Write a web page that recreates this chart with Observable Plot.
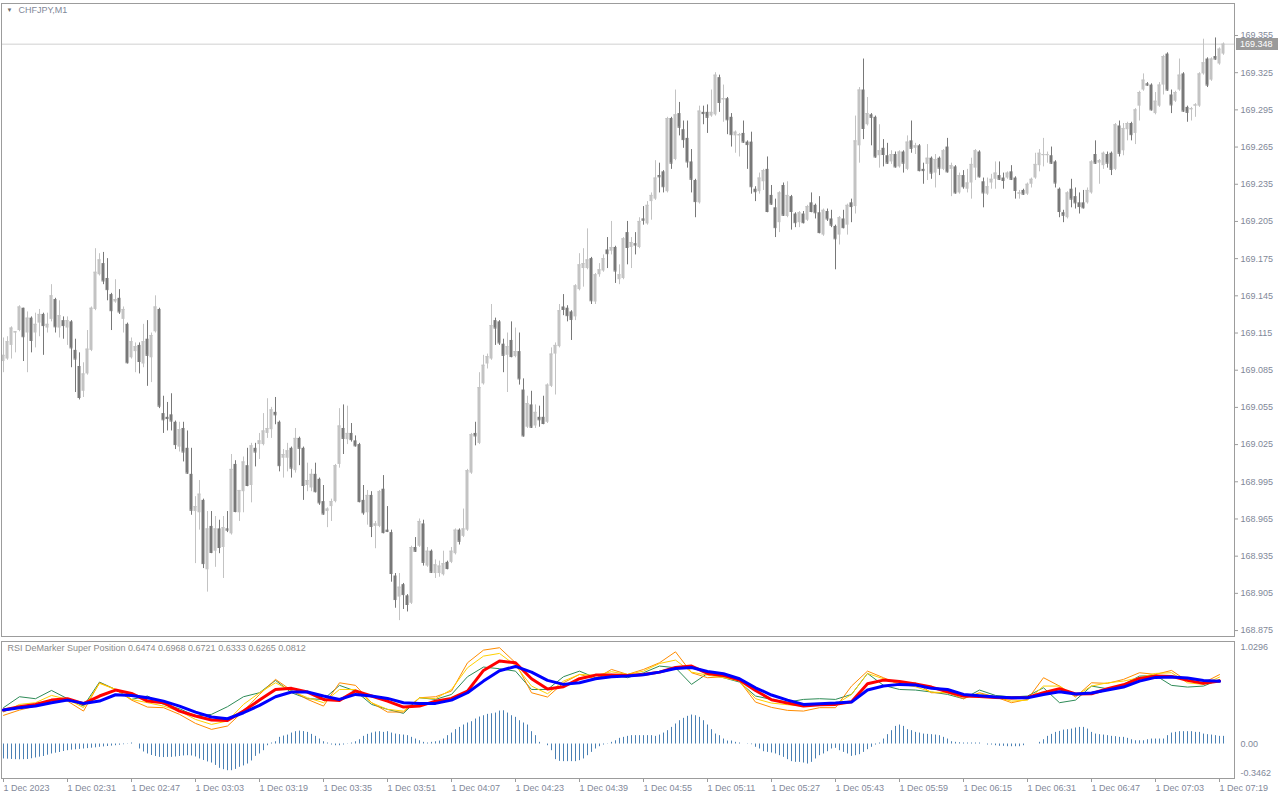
<!DOCTYPE html>
<html><head><meta charset="utf-8">
<script src="https://cdn.jsdelivr.net/npm/d3@7"></script>
<script src="https://cdn.jsdelivr.net/npm/@observablehq/plot@0.6"></script>
<style>
html,body{margin:0;padding:0;background:#fff;}
#wrap{position:relative;width:1280px;height:800px;overflow:hidden;background:#fff;}
#main{position:absolute;left:0;top:0;}
#ind{position:absolute;left:0;top:638px;}
svg{display:block;}
</style></head>
<body><div id="wrap"><div id="main"></div><div id="ind"></div></div>
<script>
const symbolLabel = "CHFJPY,M1";
const indicatorLabel = "RSI DeMarker Super Position 0.6474 0.6968 0.6721 0.6333 0.6265 0.0812";
const timeLabels = ["1 Dec 2023","1 Dec 02:31","1 Dec 02:47","1 Dec 03:03","1 Dec 03:19","1 Dec 03:35","1 Dec 03:51","1 Dec 04:07","1 Dec 04:23","1 Dec 04:39","1 Dec 04:55","1 Dec 05:11","1 Dec 05:27","1 Dec 05:43","1 Dec 05:59","1 Dec 06:15","1 Dec 06:31","1 Dec 06:47","1 Dec 07:03","1 Dec 07:19"];
const timeTickIdx = [0,16,32,48,64,80,96,112,128,144,160,176,192,208,224,240,256,272,288,304];
const priceTicks = [169.355,169.325,169.295,169.265,169.235,169.205,169.175,169.145,169.115,169.085,169.055,169.025,168.995,168.965,168.935,168.905,168.875];
const indTicks = [1.0296, 0, -0.3462];
const indTickLabels = ["1.0296","0.00","-0.3462"];

const open = [169.092,169.094,169.105,169.115,169.117,169.135,169.115,169.127,169.115,169.123,
169.130,169.119,169.126,169.142,169.119,169.125,169.119,169.124,169.101,169.088,
169.068,169.082,169.101,169.134,169.162,169.171,169.159,169.146,169.140,169.143,
169.126,169.122,169.095,169.100,169.105,169.090,169.110,169.095,169.116,169.134,
169.050,169.047,169.049,169.043,169.023,169.038,169.022,169.001,168.971,168.970,
168.980,168.924,168.959,168.939,168.957,168.942,168.957,168.953,169.009,168.970,
168.987,169.008,168.992,169.022,169.025,169.025,169.034,169.037,169.051,169.043,
169.014,169.014,169.022,169.004,169.030,169.022,168.992,168.990,169.001,168.997,
168.979,168.971,168.975,168.979,169.009,169.038,169.029,169.034,169.028,169.025,
168.980,168.970,168.984,168.959,168.959,168.989,168.956,168.954,168.919,168.902,
168.912,168.903,168.897,168.942,168.943,168.961,168.927,168.939,168.921,168.921,
168.920,168.930,168.930,168.937,168.956,168.951,168.956,169.002,169.034,169.026,
169.074,169.090,169.094,169.125,169.124,169.106,169.097,169.109,169.096,169.100,
169.069,169.039,169.057,169.040,169.047,169.047,169.043,169.072,169.098,169.104,
169.136,169.135,169.132,169.128,169.150,169.167,169.167,169.175,169.140,169.162,
169.165,169.182,169.181,169.184,169.158,169.159,169.196,169.184,169.187,169.184,
169.207,169.203,169.221,169.223,169.242,169.245,169.229,169.288,169.255,169.292,
169.279,169.272,169.253,169.238,169.220,169.293,169.293,169.290,169.291,169.321,
169.303,169.304,169.289,169.274,169.274,169.276,169.269,169.269,169.231,169.229,
169.237,169.247,169.226,169.216,169.204,169.234,169.209,169.225,169.211,169.204,
169.211,169.206,169.220,169.218,169.212,169.194,169.213,169.207,169.201,169.194,
169.207,169.202,169.220,169.217,169.266,169.311,169.283,169.291,169.289,169.258,
169.264,169.258,169.253,169.259,169.249,169.261,169.247,169.270,169.264,169.266,
169.247,169.251,169.256,169.244,169.256,169.247,169.265,169.247,169.249,169.228,
169.242,169.231,169.236,169.248,169.261,169.237,169.227,169.236,169.239,169.242,
169.240,169.240,169.245,169.240,169.227,169.230,169.227,169.235,169.240,169.250,
169.258,169.258,169.258,169.253,169.231,169.212,169.208,169.231,169.225,169.220,
169.220,169.220,169.228,169.259,169.252,169.250,169.259,169.260,169.247,169.282,
169.262,169.279,169.284,169.276,169.298,169.311,169.316,169.315,169.292,169.298,
169.315,169.340,169.307,169.302,169.311,169.324,169.297,169.295,169.298,169.298,
169.324,169.336,169.319,169.338,169.332,169.340];

const high = [169.111,169.112,169.120,169.116,169.137,169.135,169.132,169.128,169.131,169.134,
169.131,169.131,169.154,169.143,169.141,169.128,169.128,169.125,169.110,169.099,
169.091,169.117,169.136,169.183,169.179,169.180,169.175,169.147,169.158,169.150,
169.136,169.123,169.111,169.107,169.107,169.122,169.125,169.115,169.145,169.135,
169.064,169.059,169.066,169.044,169.043,169.043,169.036,169.022,168.983,168.996,
168.981,168.971,168.971,168.967,168.964,168.967,168.971,169.017,169.012,168.988,
169.015,169.022,169.026,169.026,169.034,169.050,169.062,169.055,169.063,169.044,
169.021,169.026,169.023,169.038,169.031,169.023,169.010,169.005,169.010,168.998,
168.992,168.974,168.981,169.009,169.054,169.057,169.056,169.042,169.032,169.026,
168.992,168.988,168.987,168.963,168.988,169.000,168.975,168.956,168.921,168.921,
168.913,168.904,168.943,168.950,168.965,168.964,168.942,168.940,168.932,168.931,
168.939,168.931,168.942,168.957,168.957,168.973,169.005,169.034,169.043,169.083,
169.097,169.098,169.138,169.127,169.125,169.110,169.115,169.124,169.119,169.115,
169.078,169.064,169.068,169.057,169.056,169.064,169.074,169.103,169.107,169.138,
169.146,169.137,169.133,169.154,169.179,169.183,169.199,169.176,169.163,169.171,
169.178,169.192,169.205,169.185,169.170,169.192,169.205,169.192,169.196,169.208,
169.217,169.221,169.228,169.254,169.252,169.246,169.289,169.289,169.311,169.301,
169.286,169.286,169.263,169.239,169.298,169.298,169.299,169.311,169.325,169.323,
169.315,169.305,169.292,169.278,169.276,169.286,169.270,169.277,169.233,169.244,
169.247,169.257,169.234,169.223,169.229,169.236,169.237,169.226,169.212,169.213,
169.213,169.218,169.228,169.219,169.225,169.215,169.215,169.214,169.202,169.209,
169.214,169.219,169.223,169.290,169.313,169.336,169.305,169.292,169.290,169.283,
169.271,169.268,169.262,169.261,169.262,169.262,169.274,169.286,169.268,169.267,
169.252,169.267,169.257,169.259,169.257,169.263,169.272,169.252,169.250,169.244,
169.246,169.247,169.256,169.263,169.262,169.240,169.240,169.243,169.253,169.253,
169.244,169.245,169.250,169.241,169.230,169.231,169.236,169.240,169.260,169.263,
169.272,169.261,169.265,169.254,169.232,169.214,169.229,169.239,169.232,169.228,
169.230,169.232,169.254,169.270,169.255,169.261,169.261,169.261,169.284,169.286,
169.284,169.285,169.285,169.296,169.310,169.324,169.317,169.316,169.309,169.317,
169.339,169.341,169.311,169.310,169.336,169.325,169.298,169.297,169.300,169.325,
169.352,169.337,169.337,169.353,169.345,169.349];

const low = [169.083,169.093,169.094,169.099,169.116,169.092,169.083,169.099,169.103,169.112,
169.097,169.115,169.124,169.115,169.111,169.110,169.105,169.087,169.067,169.061,
169.063,169.081,169.100,169.133,169.161,169.154,169.141,169.117,169.139,169.130,
169.115,169.090,169.094,169.083,169.082,169.087,169.072,169.075,169.115,169.054,
169.034,169.036,169.036,169.021,169.019,169.011,169.001,168.968,168.929,168.956,
168.925,168.906,168.937,168.926,168.937,168.917,168.954,168.952,168.970,168.963,
168.970,168.991,168.978,169.007,169.013,169.024,169.030,169.030,169.041,169.003,
168.998,169.003,168.998,169.002,169.008,168.980,168.987,168.987,168.986,168.976,
168.968,168.958,168.963,168.978,169.006,169.017,169.025,169.027,169.023,168.978,
168.968,168.960,168.950,168.941,168.958,168.953,168.954,168.914,168.893,168.883,
168.892,168.890,168.896,168.938,168.942,168.927,168.926,168.921,168.917,168.918,
168.919,168.924,168.929,168.936,168.944,168.950,168.955,169.001,169.024,169.025,
169.073,169.086,169.093,169.105,169.105,169.083,169.067,169.095,169.095,169.073,
169.031,169.038,169.038,169.038,169.039,169.041,169.042,169.071,169.065,169.103,
169.129,169.124,169.109,169.125,169.149,169.152,169.166,169.138,169.138,169.160,
169.164,169.167,169.178,169.155,169.154,169.158,169.170,169.167,169.178,169.183,
169.202,169.202,169.206,169.222,169.228,169.228,169.228,169.247,169.254,169.274,
169.264,169.248,169.228,169.208,169.219,169.283,169.276,169.289,169.290,169.293,
169.285,169.275,169.265,169.260,169.257,169.268,169.247,169.227,169.221,169.227,
169.230,169.212,169.218,169.192,169.196,169.209,169.208,169.198,169.200,169.200,
169.203,169.205,169.212,169.207,169.195,169.193,169.205,169.200,169.166,169.186,
169.199,169.194,169.204,169.211,169.252,169.271,169.282,169.266,169.256,169.248,
169.249,169.251,169.251,169.248,169.248,169.244,169.246,169.260,169.259,169.245,
169.235,169.238,169.239,169.232,169.242,169.246,169.244,169.225,169.227,169.227,
169.231,169.228,169.223,169.238,169.240,169.216,169.226,169.231,169.231,169.238,
169.231,169.239,169.238,169.223,169.223,169.226,169.226,169.232,169.239,169.245,
169.249,169.252,169.251,169.232,169.208,169.204,169.207,169.216,169.215,169.211,
169.215,169.219,169.227,169.251,169.235,169.247,169.248,169.242,169.246,169.257,
169.258,169.270,169.270,169.267,169.286,169.310,169.314,169.294,169.291,169.297,
169.307,169.310,169.292,169.301,169.310,169.293,169.285,169.286,169.289,169.297,
169.323,169.313,169.318,169.335,169.331,169.339];

const close = [169.097,169.108,169.119,169.116,169.136,169.112,169.127,169.109,169.122,169.130,
169.121,169.122,169.145,169.120,169.129,169.121,169.125,169.103,169.094,169.063,
169.082,169.102,169.135,169.164,169.174,169.157,169.150,169.133,169.142,169.132,
169.134,169.091,169.108,169.104,169.092,169.108,169.097,169.113,169.136,169.056,
169.045,169.046,169.044,169.025,169.037,169.019,169.002,168.972,168.975,168.985,
168.929,168.957,168.938,168.957,168.942,168.958,168.956,169.005,168.971,168.988,
169.011,168.992,169.024,169.019,169.028,169.036,169.038,169.053,169.049,169.008,
169.017,169.020,169.006,169.030,169.022,168.992,168.996,169.001,168.987,168.978,
168.969,168.973,168.979,169.008,169.040,169.030,169.034,169.029,169.024,168.979,
168.970,168.984,168.959,168.961,168.987,168.954,168.955,168.921,168.900,168.910,
168.904,168.896,168.942,168.939,168.963,168.930,168.939,168.922,168.928,168.927,
168.929,168.925,168.939,168.956,168.947,168.957,169.004,169.033,169.032,169.071,
169.089,169.096,169.121,169.119,169.107,169.097,169.104,169.096,169.100,169.078,
169.032,169.058,169.039,169.051,169.045,169.042,169.073,169.098,169.105,169.133,
169.134,169.129,169.126,169.153,169.170,169.171,169.174,169.141,169.162,169.166,
169.175,169.179,169.184,169.165,169.162,169.191,169.184,169.188,169.186,169.205,
169.206,169.218,169.226,169.240,169.241,169.233,169.288,169.252,169.291,169.281,
169.271,169.253,169.239,169.221,169.294,169.292,169.289,169.293,169.323,169.301,
169.304,169.287,169.275,169.277,169.275,169.269,169.267,169.233,169.229,169.240,
169.246,169.213,169.219,169.200,169.228,169.210,169.226,169.213,169.204,169.212,
169.204,169.217,169.213,169.212,169.196,169.214,169.207,169.202,169.191,169.208,
169.200,169.218,169.217,169.270,169.311,169.280,169.292,169.289,169.257,169.262,
169.259,169.252,169.259,169.249,169.261,169.252,169.269,169.264,169.266,169.246,
169.246,169.256,169.244,169.255,169.248,169.262,169.245,169.250,169.228,169.242,
169.233,169.236,169.251,169.262,169.241,169.228,169.233,169.239,169.244,169.239,
169.238,169.244,169.239,169.230,169.228,169.227,169.235,169.239,169.251,169.260,
169.259,169.259,169.252,169.236,169.213,169.210,169.228,169.223,169.220,169.217,
169.216,169.230,169.253,169.252,169.254,169.260,169.252,169.247,169.283,169.260,
169.280,169.284,169.275,169.295,169.309,169.319,169.315,169.295,169.302,169.315,
169.338,169.311,169.299,169.309,169.323,169.294,169.293,169.296,169.299,169.324,
169.333,169.315,169.336,169.336,169.344,169.348];

// indicator histogram, one value per bar (null = no bar drawn)
const histogram = [-0.150,-0.152,-0.155,-0.157,-0.158,-0.157,-0.155,-0.148,-0.140,-0.132,
-0.125,-0.112,-0.100,-0.092,-0.085,-0.075,-0.067,-0.062,-0.058,-0.054,
-0.050,-0.046,-0.042,-0.038,-0.033,-0.029,-0.025,-0.021,-0.017,-0.012,
-0.007,0.003,0.010,0.000,-0.050,-0.080,-0.100,-0.115,-0.125,-0.134,
-0.136,-0.134,-0.134,-0.130,-0.125,-0.120,-0.117,-0.120,-0.130,-0.150,
-0.165,-0.180,-0.191,-0.215,-0.244,-0.258,-0.268,-0.268,-0.255,-0.234,
-0.220,-0.201,-0.170,-0.124,-0.100,-0.067,-0.017,0.010,0.023,0.067,
0.080,0.090,0.110,0.124,0.130,0.125,0.117,0.097,0.077,0.050,
0.023,0.010,-0.010,-0.017,-0.017,-0.010,-0.003,0.010,0.023,0.043,
0.077,0.097,0.110,0.120,0.124,0.117,0.124,0.110,0.100,0.094,
0.090,0.084,0.067,0.050,0.033,0.017,0.010,0.017,0.023,0.030,
0.050,0.084,0.110,0.144,0.167,0.191,0.211,0.224,0.251,0.271,
0.284,0.298,0.304,0.311,0.331,0.334,0.311,0.284,0.268,0.234,
0.211,0.191,0.124,0.084,0.017,0.000,-0.017,-0.067,-0.157,-0.174,
-0.177,-0.177,-0.177,-0.177,-0.167,-0.150,-0.117,-0.084,-0.050,-0.027,
-0.010,-0.003,0.017,0.033,0.057,0.067,0.077,0.084,0.084,0.084,
0.084,0.084,0.084,0.077,0.090,0.110,0.134,0.167,0.201,0.234,
0.258,0.278,0.291,0.284,0.268,0.234,0.191,0.144,0.100,0.084,
0.050,0.030,0.030,0.017,0.010,null,-0.003,-0.007,-0.033,-0.050,
-0.077,-0.084,-0.090,-0.100,-0.117,-0.134,-0.157,-0.177,-0.184,-0.184,
-0.191,-0.201,-0.184,-0.150,-0.117,-0.100,-0.077,-0.050,-0.043,-0.067,
-0.084,-0.100,-0.124,-0.117,-0.107,-0.084,-0.057,-0.033,-0.010,0.010,
0.050,0.094,0.134,0.177,0.191,0.177,0.144,0.134,0.117,0.110,
0.100,0.097,0.094,0.090,0.084,0.067,0.050,0.023,0.017,0.013,
0.010,0.010,0.010,0.010,0.010,null,-0.010,-0.010,-0.017,-0.023,
-0.023,-0.027,-0.027,-0.027,-0.027,-0.017,null,null,null,0.017,
0.043,0.077,0.097,0.117,0.127,0.140,0.144,0.150,0.161,0.167,
0.167,0.150,0.117,0.100,0.094,0.090,0.084,0.077,0.074,0.067,
0.067,0.057,0.043,0.033,0.033,0.033,0.043,0.050,0.050,0.050,
0.050,0.084,0.110,0.117,0.124,0.124,0.124,0.124,0.117,0.117,
0.100,0.094,0.090,0.084,0.077,0.077];

// indicator lines, read every 4th bar
const sampleIdx = d3.range(0, 305, 4);
const blueLine = [0.341,0.365,0.381,0.415,0.441,0.408,0.431,0.495,0.488,0.465,0.431,0.381,0.321,0.271,0.254,0.314,0.388,0.475,0.522,0.522,0.482,0.448,0.498,0.482,0.458,0.415,0.408,
0.408,0.441,0.515,0.632,0.736,0.779,0.722,0.639,0.599,0.615,0.656,0.676,0.682,0.696,0.722,0.759,0.769,0.729,0.706,0.656,0.565,0.492,0.441,0.398,0.405,0.411,0.421,
0.542,0.582,0.599,0.592,0.559,0.548,0.498,0.485,0.472,0.465,0.465,0.498,0.525,0.502,0.512,0.542,0.572,0.632,0.669,0.672,0.662,0.639,0.630];
const redLine = [0.341,0.375,0.398,0.441,0.455,0.405,0.482,0.542,0.508,0.431,0.415,0.331,0.281,0.241,0.237,0.331,0.441,0.548,0.559,0.522,0.448,0.438,0.532,0.482,0.431,0.371,0.381,
0.431,0.458,0.532,0.739,0.833,0.816,0.656,0.552,0.575,0.656,0.692,0.692,0.689,0.699,0.722,0.769,0.783,0.709,0.689,0.642,0.538,0.445,0.411,0.381,0.395,0.398,0.425,
0.605,0.642,0.629,0.602,0.572,0.525,0.482,0.478,0.468,0.462,0.468,0.515,0.555,0.502,0.505,0.555,0.595,0.659,0.682,0.679,0.639,0.609,0.633];
const greenLine = [0.365,0.475,0.455,0.538,0.455,0.381,0.622,0.548,0.448,0.482,0.398,0.355,0.281,0.298,0.375,0.475,0.515,0.639,0.515,0.455,0.448,0.589,0.532,0.398,0.348,0.308,0.465,
0.448,0.498,0.676,0.773,0.756,0.732,0.548,0.548,0.676,0.732,0.666,0.699,0.666,0.716,0.783,0.766,0.599,0.709,0.666,0.622,0.482,0.448,0.421,0.448,0.455,0.448,0.498,
0.709,0.589,0.548,0.542,0.522,0.498,0.455,0.542,0.488,0.472,0.482,0.565,0.415,0.441,0.582,0.555,0.599,0.682,0.689,0.589,0.572,0.582,0.647];
const orangeLine = [0.288,0.341,0.381,0.448,0.431,0.331,0.615,0.548,0.441,0.371,0.365,0.298,0.207,0.147,0.181,0.331,0.498,0.649,0.538,0.448,0.381,0.615,0.589,0.415,0.321,0.321,0.465,
0.475,0.532,0.816,0.943,0.967,0.816,0.515,0.472,0.615,0.699,0.656,0.749,0.699,0.749,0.816,0.926,0.716,0.666,0.676,0.632,0.421,0.368,0.338,0.331,0.365,0.365,0.582,
0.732,0.666,0.599,0.615,0.515,0.515,0.455,0.515,0.472,0.415,0.448,0.666,0.582,0.472,0.615,0.609,0.649,0.716,0.699,0.739,0.632,0.615,0.697];
const goldLine = [0.321,0.398,0.415,0.488,0.448,0.365,0.609,0.548,0.448,0.415,0.381,0.331,0.247,0.197,0.231,0.398,0.515,0.615,0.532,0.465,0.415,0.548,0.548,0.415,0.348,0.331,0.465,
0.455,0.548,0.766,0.883,0.910,0.789,0.582,0.505,0.632,0.699,0.689,0.726,0.699,0.732,0.809,0.843,0.722,0.692,0.666,0.632,0.455,0.411,0.395,0.381,0.398,0.398,0.498,
0.709,0.655,0.605,0.575,0.522,0.515,0.472,0.505,0.472,0.431,0.441,0.582,0.582,0.482,0.582,0.615,0.632,0.666,0.709,0.716,0.615,0.599,0.672];

// ---------- styles ----------
const UP = "#c3c3c3", DOWN = "#787878";
const TEXT = "#7f8899";
const FRAME = "#9c9c9c";
const FONT = "'Liberation Sans', Arial, sans-serif";
const xDomain = [-0.5, 307.75];

const candles = open.map((o, i) => ({i, o, h: high[i], l: low[i], c: close[i], up: close[i] > o}));
const lastPrice = close[close.length - 1];

const main = Plot.plot({
  width: 1280, height: 638,
  marginLeft: 1, marginRight: 46, marginTop: 3, marginBottom: 2,
  style: {fontFamily: FONT, fontSize: "9px", color: TEXT, background: "#fff", overflow: "visible"},
  x: {domain: xDomain, axis: null, label: null},
  y: {domain: [168.8702, 169.3808], axis: null, label: null},
  marks: [
    Plot.ruleY([lastPrice], {stroke: "#d0d0d0", strokeWidth: 1}),
    Plot.ruleX(candles, {x: "i", y1: "l", y2: "h", stroke: d => d.up ? UP : DOWN, strokeWidth: 1}),
    Plot.rect(candles, {x1: d => d.i - 0.375, x2: d => d.i + 0.375, y1: "o", y2: "c", fill: d => d.up ? UP : DOWN}),
    Plot.ruleY(candles, {x1: d => d.i - 0.375, x2: d => d.i + 0.375, y: "c", stroke: d => d.up ? UP : DOWN, strokeWidth: 1}),
    Plot.axisY(priceTicks, {anchor: "right", label: null, tickSize: 3, tickPadding: 3, tickFormat: d3.format(".3f"), stroke: FRAME, fill: TEXT, fontSize: 9}),
    Plot.frame({stroke: FRAME}),
    Plot.text([symbolLabel], {frameAnchor: "top-left", dx: 17, dy: 3, fill: TEXT, fontSize: 9, textAnchor: "start"}),
    Plot.text(["\u25BC"], {frameAnchor: "top-left", dx: 5, dy: 4, fill: "#6a6a6a", fontSize: 6, textAnchor: "start"})
  ]
});
document.getElementById("main").appendChild(main);

// current price tag drawn with the chart's own y scale
{
  const sy = main.scale("y").apply(lastPrice);
  const svg = d3.select(main);
  svg.append("rect").attr("x", 1236).attr("y", Math.round(sy) - 6).attr("width", 42).attr("height", 12).attr("fill", "#9a9a9a");
  svg.append("text").attr("x", 1240).attr("y", Math.round(sy)).attr("dy", "0.34em")
    .attr("text-anchor", "start")
    .attr("fill", "#fff").attr("font-size", 9).attr("font-family", FONT).text(d3.format(".3f")(lastPrice));
}

const hist = histogram.map((v, i) => ({i, v})).filter(d => d.v !== null);
const mk = (arr) => arr.map((v, k) => ({i: sampleIdx[k], v}));

const ind = Plot.plot({
  width: 1280, height: 162,
  marginLeft: 1, marginRight: 46, marginTop: 3, marginBottom: 22,
  style: {fontFamily: FONT, fontSize: "9px", color: TEXT, background: "#fff", overflow: "visible"},
  x: {domain: xDomain, axis: null, label: null},
  y: {domain: [-0.3462, 1.0296], axis: null, label: null},
  marks: [
    Plot.ruleX(hist, {x: "i", y1: 0, y2: "v", stroke: "#4a80b4", strokeWidth: 1}),
    Plot.line(mk(greenLine), {x: "i", y: "v", stroke: "#2e8b57", strokeWidth: 1}),
    Plot.line(mk(orangeLine), {x: "i", y: "v", stroke: "#ff8c00", strokeWidth: 1}),
    Plot.line(mk(goldLine), {x: "i", y: "v", stroke: "#ffd000", strokeWidth: 1}),
    Plot.line(mk(redLine), {x: "i", y: "v", stroke: "#ff0000", strokeWidth: 3}),
    Plot.line(mk(blueLine), {x: "i", y: "v", stroke: "#0000ff", strokeWidth: 3}),
    Plot.frame({stroke: FRAME}),
    Plot.axisX(timeTickIdx, {anchor: "bottom", label: null, tickSize: 4, tickPadding: 2, tickFormat: (d, k) => timeLabels[k], textAnchor: "start", stroke: FRAME, fill: TEXT, fontSize: 9}),
    Plot.text([indTicks[0]], {x: xDomain[1], y: d => d, text: () => indTickLabels[0], dx: 6, dy: 6, textAnchor: "start", fill: TEXT, fontSize: 9}),
    Plot.text([indTicks[1]], {x: xDomain[1], y: d => d, text: () => indTickLabels[1], dx: 6, dy: 0, textAnchor: "start", fill: TEXT, fontSize: 9}),
    Plot.text([indTicks[2]], {x: xDomain[1], y: d => d, text: () => indTickLabels[2], dx: 6, dy: -5, textAnchor: "start", fill: TEXT, fontSize: 9}),
    Plot.text([indicatorLabel], {frameAnchor: "top-left", dx: 6, dy: 3, fill: "#8a8a8a", fontSize: 9, textAnchor: "start"})
  ]
});
document.getElementById("ind").appendChild(ind);
</script>
</body></html>
